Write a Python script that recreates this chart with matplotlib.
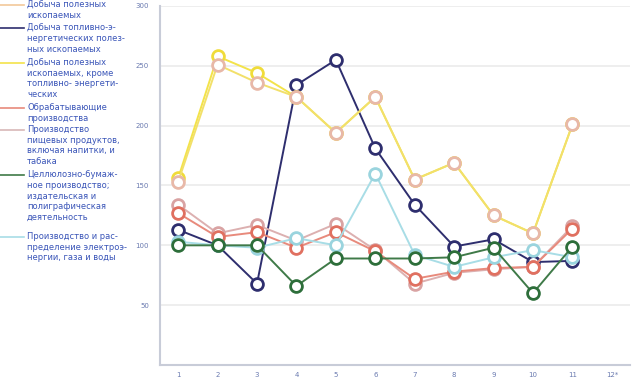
import matplotlib.pyplot as plt
from matplotlib.lines import Line2D

# periods on x axis
periods = list(range(1, 12))
tick_labels = ['1', '2', '3', '4', '5', '6', '7', '8', '9', '10', '11', '12*']

# series values
mining_all = [153, 251, 236, 224, 194, 224, 155, 169, 125, 110, 201]
mining_fuel = [113, 100, 68, 234, 255, 181, 134, 99, 105, 86, 87]
mining_nonfuel = [156, 258, 244, 224, 194, 224, 155, 169, 125, 110, 201]
manufacturing = [127, 107, 111, 98, 111, 95, 72, 78, 81, 82, 114]
food = [134, 110, 117, 104, 118, 96, 68, 77, 80, 82, 116]
paper = [100, 100, 100, 66, 89, 89, 89, 90, 98, 60, 99]
energy = [103, 100, 98, 106, 100, 160, 92, 82, 90, 96, 90]

labels = [
    'Добыча полезных\nископаемых',
    'Добыча топливно-э-\nнергетических полез-\nных ископаемых',
    'Добыча полезных\nископаемых, кроме\nтопливно- энергети-\nческих',
    'Обрабатывающие\nпроизводства',
    'Производство\nпищевых продуктов,\nвключая напитки, и\nтабака',
    'Целлюлозно-бумаж-\nное производство;\nиздательская и\nполиграфическая\nдеятельность',
    'Производство и рас-\nпределение электроэ-\nнергии, газа и воды',
]
legend_y = [5, 28, 63, 108, 130, 175, 237]  # pixel rows of legend entries

# (values, line colour, marker edge colour)
series = [
    (mining_fuel, '#2e2e6e', '#2e2e6e'),
    (mining_nonfuel, '#f3e34a', '#f0dc3a'),
    (mining_all, '#f2e06a', '#e8b8a8'),
    (food, '#dcb0b0', '#d9a3a3'),
    (manufacturing, '#e88a7c', '#e07060'),
    (energy, '#a8dde6', '#9ad4de'),
    (paper, '#3f7a48', '#2d6e3a'),
]
legend_colors = ['#f2c89a', '#2e2e6e', '#f3e34a', '#e88a7c', '#d8b8b8', '#3f7a48', '#a8dde6']

W, H = 633, 381
fig = plt.figure(figsize=(W / 100, H / 100), dpi=100)
ax = fig.add_axes([160 / W, 1 - 365 / H, 470 / W, 359 / H])

for vals, lc, mc in series:
    ax.plot(periods, vals, color=lc, lw=1.4, marker='o', markersize=8.5,
            markerfacecolor='white', markeredgecolor=mc, markeredgewidth=2, zorder=3)

ax.set_xlim(0.54, 12.46)
ax.set_ylim(0, 300)
ax.set_xticks(range(1, 13))
ax.set_xticklabels(tick_labels)
ax.set_yticks([50, 100, 150, 200, 250, 300])
ax.tick_params(axis='both', length=0, labelsize=5, labelcolor='#6a7ab0')
ax.tick_params(axis='y', pad=8)
ax.tick_params(axis='x', pad=5)
ax.grid(axis='y', color='#ebebeb', lw=1.2, zorder=0)
for s in ['top', 'right']:
    ax.spines[s].set_visible(False)
ax.spines['left'].set_color('#c8ccd8')
ax.spines['bottom'].set_color('#c8ccd8')
ax.spines['left'].set_linewidth(1.5)
ax.spines['bottom'].set_linewidth(1.5)

# hand-made legend on the left
for lab, y, c in zip(labels, legend_y, legend_colors):
    fig.add_artist(Line2D([0, 24 / W], [1 - y / H, 1 - y / H], color=c, lw=1.2,
                          transform=fig.transFigure))
    fig.text(27 / W, 1 - (y - 5) / H, lab, fontsize=6, color='#3a55b8',
             va='top', ha='left', linespacing=1.25)

fig.savefig('out.png', dpi=100)
